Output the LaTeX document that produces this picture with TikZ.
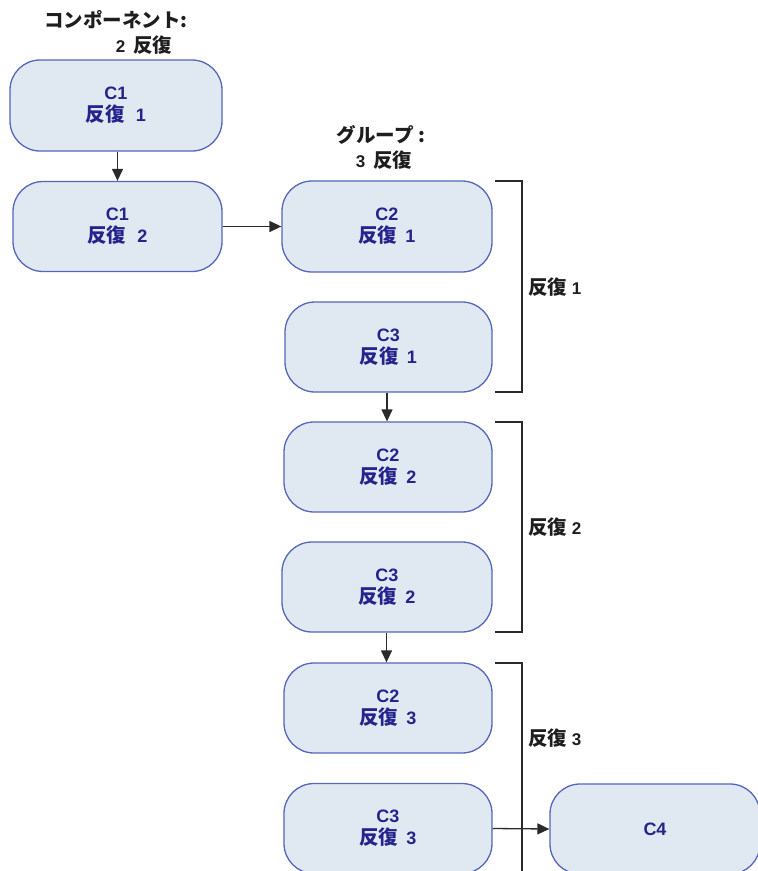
\documentclass[tikz,border=0pt]{standalone}
\usepackage{fontspec}
\setmainfont{Liberation Sans}
\newfontfamily\jpf{Noto Sans CJK JP Bold}
\usetikzlibrary{arrows.meta}
\definecolor{boxfill}{HTML}{E0E8F1}
\definecolor{boxdraw}{HTML}{5566BB}
\definecolor{boxtext}{HTML}{24248C}
\definecolor{linec}{HTML}{2A2A2A}
\definecolor{labtext}{HTML}{1E1E1E}
\newcommand\jpt[1]{{\jpf\fontsize{19.5}{22}\selectfont #1}}
\newcommand\rep[1]{\jpt{反復}\hspace{3pt} #1}
\tikzset{
  cbox/.style={draw=boxdraw, fill=boxfill, line width=1.3pt, rounded corners=30pt,
    minimum width=209pt, minimum height=90pt, align=center, text=boxtext,
    font=\bfseries\fontsize{18}{22}\selectfont, inner sep=0pt},
  conn/.style={draw=linec, line width=1.3pt, -{Triangle[length=12pt,width=11pt]}},
  brk/.style={draw=linec, line width=1.3pt},
  lab/.style={text=labtext, font=\bfseries\fontsize{17}{22}\selectfont, inner sep=0pt}
}
\begin{document}
\begin{tikzpicture}[x=1pt,y=-1pt]
\useasboundingbox (0,0) rectangle (758,871);
\clip (0,0) rectangle (758,871);
% titles
\node[lab, anchor=west] (t1a) at (44,20) {\jpt{コンポーネント:}};
\node[lab] (t1b) at (144,45) {2\hspace{3pt} \jpt{反復}};
\node[lab] (t2a) at (381,135) {\jpt{グループ :}};
\node[lab] (t2b) at (384,160) {3\hspace{3pt} \jpt{反復}};
% boxes
\node[cbox, minimum width=212pt, minimum height=91pt] (c11) at (116,105.5) {C1\\\jpt{反復}\hspace{6pt} 1};
\node[cbox] (c12) at (117.5,226.5) {C1\\\jpt{反復}\hspace{6pt} 2};
\node[cbox, minimum width=210pt, minimum height=91pt] (c21) at (387,226.5) {C2\\\rep{1}};
\node[cbox, minimum width=207pt] (c31) at (388.5,347) {C3\\\rep{1}};
\node[cbox, minimum width=208pt] (c22) at (388,467) {C2\\\rep{2}};
\node[cbox, minimum width=210pt] (c32) at (387,587) {C3\\\rep{2}};
\node[cbox, minimum width=208pt] (c23) at (388,708) {C2\\\rep{3}};
\node[cbox, minimum width=208pt] (c33) at (388,828.5) {C3\\\rep{3}};
\node[cbox, minimum width=210pt] (c4) at (655,829) {C4};
% connectors
\draw[conn] (c11.south -| c12.north) -- (c12.north);
\draw[conn] (c12.east) -- (c21.west);
\draw[conn] ([xshift=-1.5pt]c31.south) -- ([xshift=-1.5pt]c31.south |- c22.north);
\draw[conn] ([xshift=-0.5pt]c32.south) -- ([xshift=-0.5pt]c32.south |- c23.north);
\draw[conn] (c33.east) -- (c4.west);
% brackets
\coordinate (b1a) at (495,181);
\coordinate (b1b) at (522,181);
\coordinate (b1c) at (522,392);
\coordinate (b1d) at (495,392);
\draw[brk] (b1a) -- (b1b) -- (b1c) -- (b1d);
\coordinate (b2a) at (495,422);
\coordinate (b2b) at (522,422);
\coordinate (b2c) at (522,632);
\coordinate (b2d) at (495,632);
\draw[brk] (b2a) -- (b2b) -- (b2c) -- (b2d);
\coordinate (b3a) at (495,663);
\coordinate (b3b) at (522,663);
\coordinate (b3c) at (522,890);
\draw[brk] (b3a) -- (b3b) -- (b3c);
\node[lab, anchor=west] (l1) at (528,287) {\jpt{反復} 1};
\node[lab, anchor=west] (l2) at (528,527) {\jpt{反復} 2};
\node[lab, anchor=west] (l3) at (528,738) {\jpt{反復} 3};
\end{tikzpicture}
\end{document}
